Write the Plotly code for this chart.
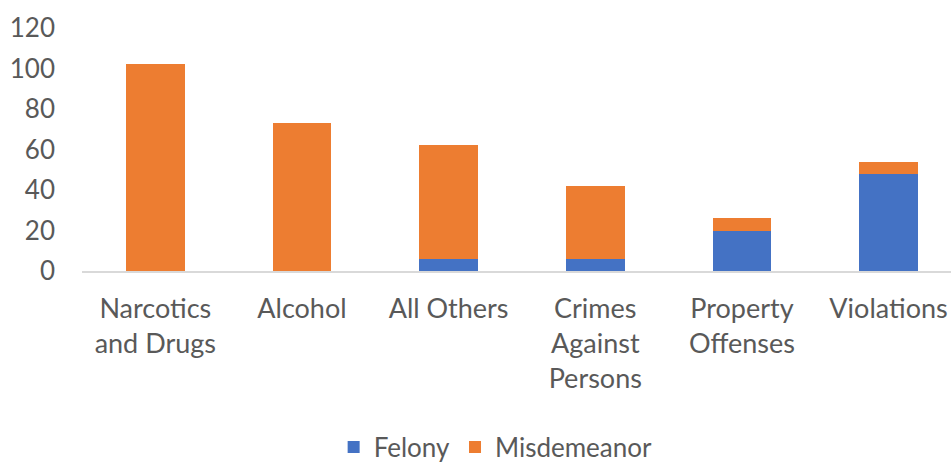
import plotly.graph_objects as go

categories = ["Narcotics<br>and Drugs", "Alcohol", "All Others",
              "Crimes<br>Against<br>Persons", "Property<br>Offenses", "Violations"]
felony = [0, 0, 6, 6, 20, 48]
misdemeanor = [102, 73, 56, 36, 6, 6]
y_ticks = [0, 20, 40, 60, 80, 100, 120]

FONT = "Lato"
TEXT = "#595959"
x_pos = list(range(len(categories)))

fig = go.Figure()
fig.add_trace(go.Bar(name="Felony", x=x_pos, y=felony, marker_color="#4472C4",
                     marker_line_width=0))
fig.add_trace(go.Bar(name="Misdemeanor", x=x_pos, y=misdemeanor, marker_color="#ED7D31",
                     marker_line_width=0))

fig.update_layout(
    width=951, height=468,
    margin=dict(l=82, r=0, t=28, b=197, autoexpand=False),
    paper_bgcolor="white", plot_bgcolor="white",
    barmode="stack", bargap=0.6,
    font=dict(family=FONT, size=26, color=TEXT),
    showlegend=True,
    legend=dict(orientation="h", x=0.476, xanchor="center", y=-0.725, yanchor="middle",
                traceorder="normal", itemwidth=30,
                font=dict(family=FONT, size=26, color=TEXT), itemclick=False),
)
fig.update_xaxes(
    tickmode="array", tickvals=x_pos, ticktext=categories,
    range=[-0.5, 5.426], showgrid=False, zeroline=False, automargin=False,
    showline=True, linecolor="#d9d9d9", linewidth=1.5,
    ticks="", ticklabelstandoff=13,
    tickfont=dict(family=FONT, size=27, color=TEXT),
)
fig.update_yaxes(
    range=[0, 120], tickvals=y_ticks, showgrid=False, zeroline=False, automargin=False,
    showline=False, ticks="", ticklabelstandoff=26,
    tickfont=dict(family=FONT, size=26, color=TEXT),
)

fig.write_html("out.html")
